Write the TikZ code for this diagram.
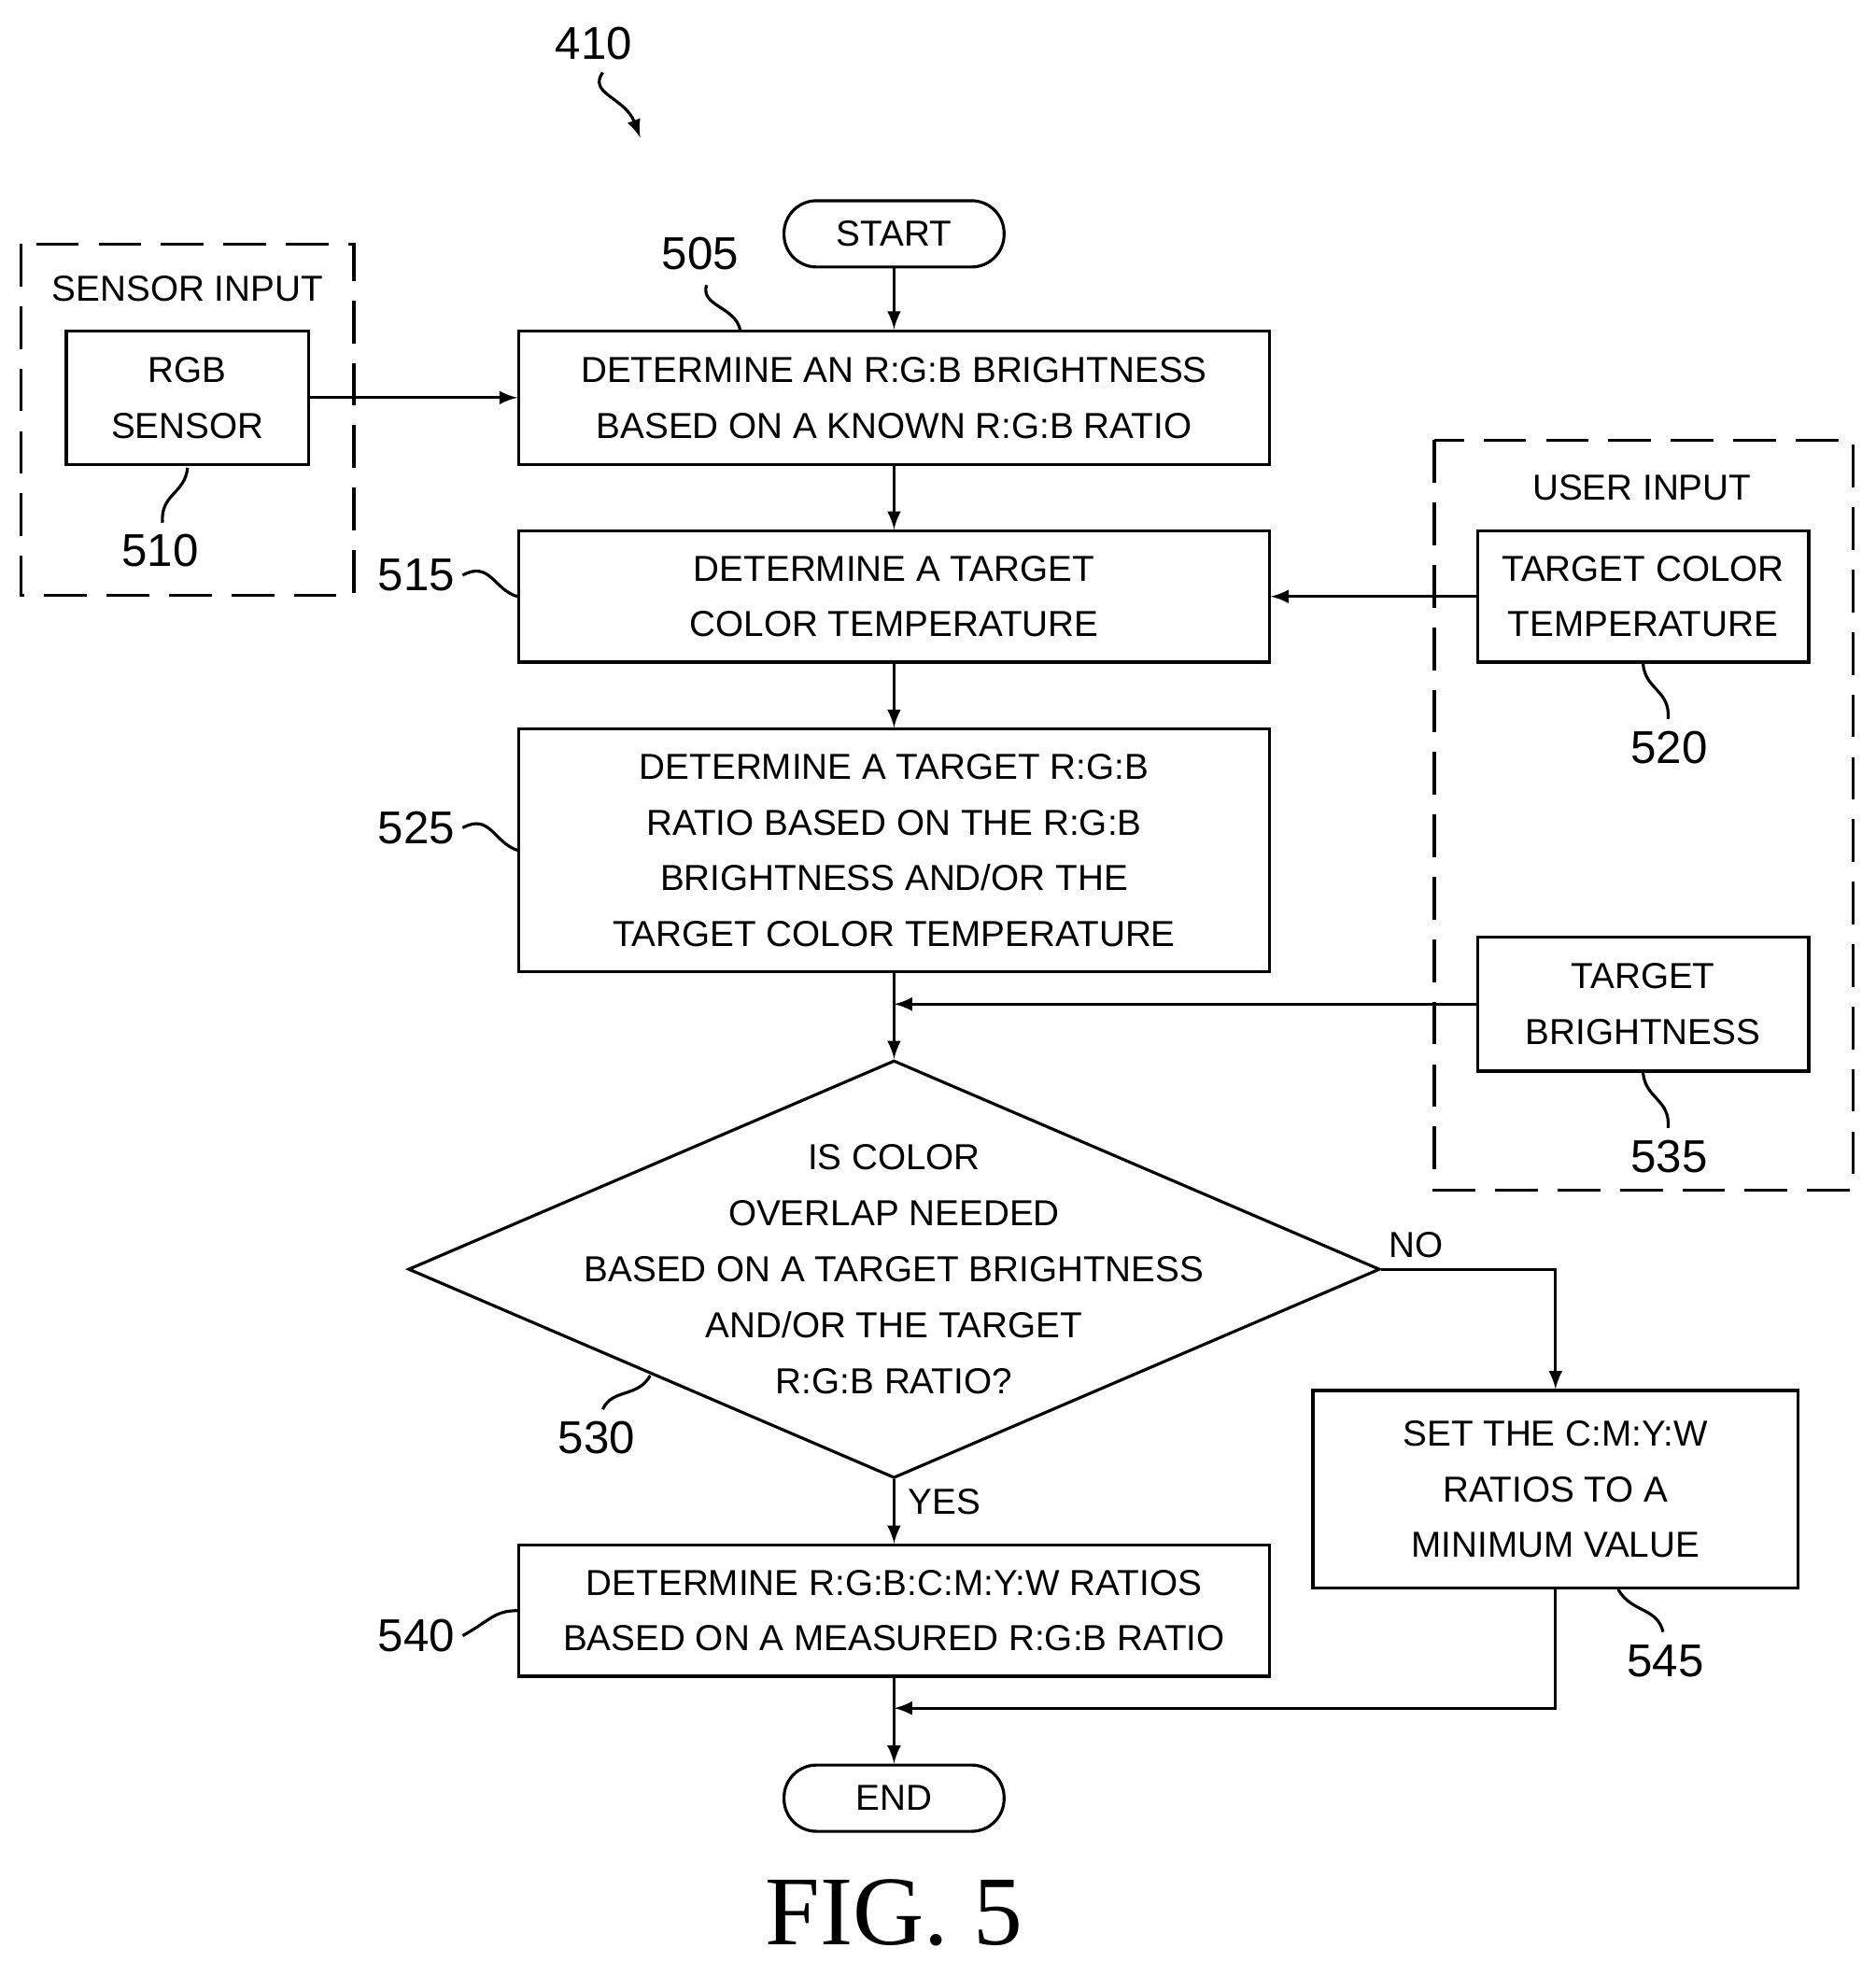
\documentclass[tikz,border=0pt]{standalone}
\usepackage{fontspec}
\setmainfont{Liberation Sans}
\newfontfamily\figfont{Liberation Serif}
\usetikzlibrary{shapes.geometric}
\newcommand{\U}{0.013387cm}
\begin{document}
\begin{tikzpicture}[
        x=\U, y=-\U,
        every node/.style={font=\fontsize{11}{17}\selectfont, align=center, inner sep=0pt},
        box/.style={draw, rectangle, line width=0.9pt},
        term/.style={draw, rounded corners=26*\U, line width=0.9pt, minimum width=176*\U, minimum height=53*\U},
        dec/.style={draw, diamond, line width=0.9pt, minimum width=777*\U, minimum height=334*\U, aspect=2.33},
        group/.style={draw, line width=0.9pt, dash pattern=on 13pt off 6pt},
        num/.style={font=\fontsize{14}{16}\selectfont},
        line/.style={line width=0.9pt},
        flow/.style={line width=0.9pt, -latex}
    ]
        \useasboundingbox (0,0) rectangle (1500,1569);

        % Nodes
        \node[term] (start) at (715,187) {START};
        \node[box, minimum width=600*\U, minimum height=107*\U] (s505) at (715,318) {DETERMINE AN R:G:B BRIGHTNESS\\BASED ON A KNOWN R:G:B RATIO};
        \node[box, minimum width=600*\U, minimum height=105*\U] (s515) at (715,477) {DETERMINE A TARGET\\COLOR TEMPERATURE};
        \node[box, minimum width=600*\U, minimum height=194*\U] (s525) at (715,680) {DETERMINE A TARGET R:G:B\\RATIO BASED ON THE R:G:B\\BRIGHTNESS AND/OR THE\\TARGET COLOR TEMPERATURE};
        \node[dec] (s530) at (715,1015) {};
        \node at (715,1015) {IS COLOR\\OVERLAP NEEDED\\BASED ON A TARGET BRIGHTNESS\\AND/OR THE TARGET\\R:G:B RATIO?};
        \node[box, minimum width=600*\U, minimum height=105*\U] (s540) at (715,1288) {DETERMINE R:G:B:C:M:Y:W RATIOS\\BASED ON A MEASURED R:G:B RATIO};
        \node[box, minimum width=388*\U, minimum height=158*\U] (s545) at (1244,1191) {SET THE C:M:Y:W\\RATIOS TO A\\MINIMUM VALUE};
        \node[term] (end) at (715,1438) {END};

        % Sensor and user input
        \draw[group] (17,195) rectangle (283,476);
        \node (sensorin) at (150,231) {SENSOR INPUT};
        \node[box, minimum width=194*\U, minimum height=107*\U] (rgb) at (150,318) {RGB\\SENSOR};
        \draw[group] (1147,352) rectangle (1482,952);
        \node (userin) at (1313,390) {USER INPUT};
        \node[box, minimum width=265*\U, minimum height=105*\U] (tct) at (1314,477) {TARGET COLOR\\TEMPERATURE};
        \node[box, minimum width=265*\U, minimum height=107*\U] (tbr) at (1314,803) {TARGET\\BRIGHTNESS};

        % Arrows
        \draw[flow] (start) -- (s505);
        \draw[flow] (s505) -- (s515);
        \draw[flow] (s515) -- (s525);
        \draw[flow] (s525) -- (s530.north);
        \draw[flow] (s530.south) -- node[right=10*\U, pos=0.35] {YES} (s540);
        \draw[flow] (s540) -- (end);
        \draw[flow] (rgb) -- (s505.west |- rgb);
        \draw[flow] (tct) -- (s515.east |- tct);
        \coordinate (join1) at (715,803);
        \draw[flow] (tbr) -- (join1);
        \draw[flow] (s530.east) -| node[pos=0.1, above=8*\U] {NO} (s545.north);
        \coordinate (join2) at (715,1366);
        \draw[flow] (s545.south) |- (join2);

        % Reference numerals
        \node[num] (n410) at (475,35) {410};
        \draw[line, -latex] (482,58) .. controls (470,75) and (500,78) .. (512,110);
        \node[num] (n505) at (560,203) {505};
        \draw[line] (565,228) .. controls (560,245) and (588,245) .. (592,264);
        \node[num] (n510) at (128,440) {510};
        \draw[line] (150,374) .. controls (148,395) and (128,395) .. (130,418);
        \node[num] (n515) at (333,460) {515};
        \draw[line] (370,460) .. controls (392,448) and (395,472) .. (414,477);
        \node[num] (n520) at (1335,598) {520};
        \draw[line] (1314,531) .. controls (1316,552) and (1336,552) .. (1334,575);
        \node[num] (n525) at (333,662) {525};
        \draw[line] (370,662) .. controls (392,650) and (395,674) .. (414,680);
        \node[num] (n535) at (1335,925) {535};
        \draw[line] (1314,858) .. controls (1316,879) and (1336,879) .. (1334,902);
        \node[num] (n530) at (477,1150) {530};
        \draw[line] (520,1100) .. controls (510,1118) and (490,1110) .. (482,1127);
        \node[num] (n540) at (333,1308) {540};
        \draw[line] (370,1308) .. controls (392,1296) and (395,1288) .. (414,1288);
        \node[num] (n545) at (1332,1328) {545};
        \draw[line] (1294,1271) .. controls (1305,1290) and (1325,1285) .. (1330,1305);

        \node[font=\figfont\fontsize{30}{32}\selectfont] (fig) at (715,1530) {FIG. 5};
    \end{tikzpicture}
\end{document}
